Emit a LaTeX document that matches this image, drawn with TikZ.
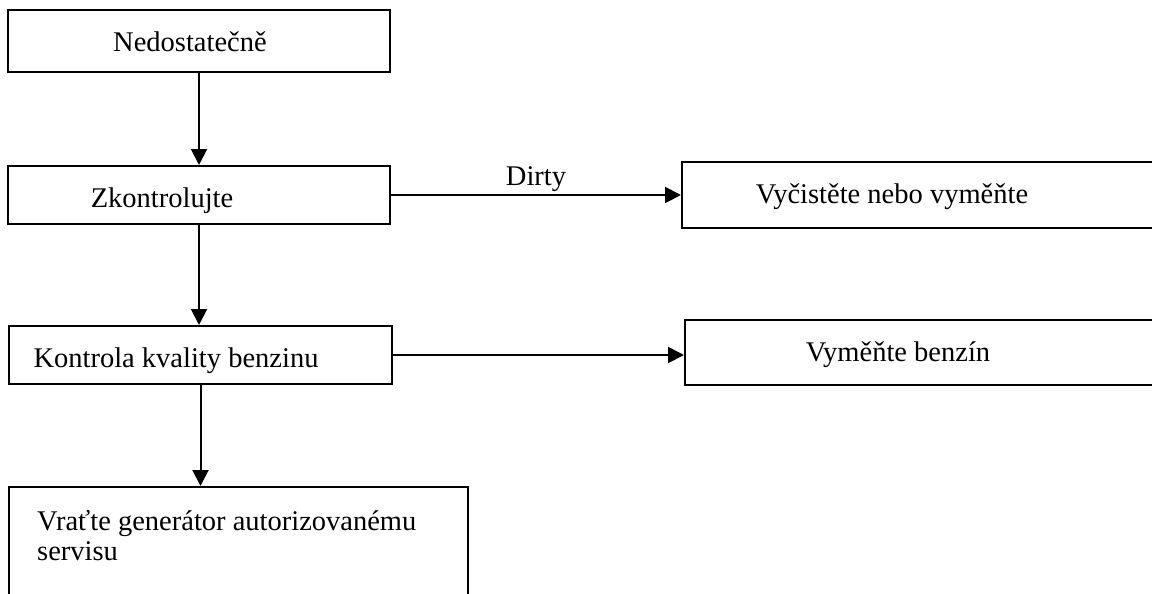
\documentclass[tikz,border=0pt]{standalone}
\usepackage{fontspec}
\setmainfont{Liberation Serif}
\usetikzlibrary{arrows.meta}
\begin{document}
\begin{tikzpicture}[x=1pt,y=-1pt,
  boxstyle/.style={draw,line width=2pt,inner sep=0pt,anchor=north west},
  lbl/.style={font=\fontsize{28.5}{30}\selectfont,inner sep=0pt},
  conn/.style={line width=2pt,-{Triangle[length=16pt,width=16pt]}}]
\useasboundingbox (0,0) rectangle (1152,594);
\clip (0,0) rectangle (1152,594);
% boxes
\node[boxstyle,minimum width=382pt,minimum height=62pt] (b1) at (7,9) {};
\node[boxstyle,minimum width=382pt,minimum height=58pt] (b2) at (7,165) {};
\node[boxstyle,minimum width=520pt,minimum height=66pt] (b3) at (681,161) {};
\node[boxstyle,minimum width=383pt,minimum height=58pt] (b4) at (8,325) {};
\node[boxstyle,minimum width=520pt,minimum height=65pt] (b5) at (684,319) {};
\node[boxstyle,minimum width=459pt,minimum height=170pt] (b6) at (8,486) {};
% texts
\node[lbl,anchor=base] (t1) at (190,52) {Nedostatečně};
\node[lbl,anchor=base] (t2) at (162,207) {Zkontrolujte};
\node[lbl,anchor=base] (t3) at (892,203) {Vyčistěte nebo vyměňte};
\node[lbl,anchor=base] (t4) at (176,367) {Kontrola kvality benzinu};
\node[lbl,anchor=base] (t5) at (898,361) {Vyměňte benzín};
\node[lbl,anchor=base west] (t6a) at (37,530) {Vraťte generátor autorizovanému};
\node[lbl,anchor=base west] (t6b) at (37,560) {servisu};
\node[lbl,anchor=base] (dirty) at (536,185) {Dirty};
% connectors
\draw[conn] (b1.south) -- (b2.north);
\draw[conn] (b2.south) -- (b2.south |- b4.north);
\draw[conn] (b4.south) -- (b4.south |- b6.north);
\draw[conn] (b2.east) -- (b2.east -| b3.west);
\draw[conn] (b4.east) -- (b4.east -| b5.west);
\end{tikzpicture}
\end{document}
